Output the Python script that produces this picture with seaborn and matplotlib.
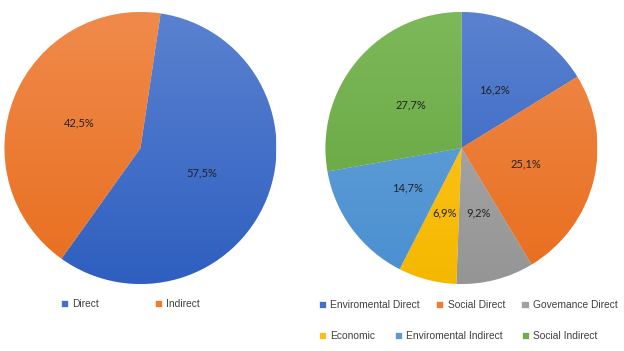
import numpy as np
import seaborn as sns
import matplotlib.pyplot as plt
from matplotlib.colors import LinearSegmentedColormap

# data
left_labels = ['Direct', 'Indirect']
left_values = [57.5, 42.5]

right_labels = ['Enviromental Direct', 'Social Direct', 'Govemance Direct',
                'Economic', 'Enviromental Indirect', 'Social Indirect']
right_values = [16.2, 25.1, 9.2, 6.9, 14.7, 27.7]

# Excel-like gradient colours (top / bottom of each slice)
left_top = ['#5b82d0', '#f08a4b']
left_bottom = ['#2e5fc0', '#e86e1e']
right_top = ['#5b82d0', '#f08a4b', '#b0b0b0', '#ffc82a', '#6aa6dc', '#7db85a']
right_bottom = ['#2e5fc0', '#e86e1e', '#959595', '#f5b800', '#4a8fd0', '#62a33a']

sns.set_theme(style='white')
plt.rcParams['font.family'] = ['Liberation Sans', 'DejaVu Sans']


def pct_text(v):
    return f'{v:.1f}%'.replace('.', ',')


def gradient_pie(ax, values, tops, bottoms, startangle):
    mids = [sns.blend_palette([t, b], 3)[1] for t, b in zip(tops, bottoms)]
    wedges, texts = ax.pie(values, labels=[pct_text(v) for v in values],
                           colors=mids, startangle=startangle, counterclock=False,
                           labeldistance=0.49,
                           wedgeprops=dict(edgecolor='white', linewidth=0.5),
                           textprops=dict(fontsize=8, color='#222222', family=['Lato', 'DejaVu Sans']))
    grad = np.linspace(0, 1, 256).reshape(-1, 1)
    for w, t, b in zip(wedges, tops, bottoms):
        cmap = LinearSegmentedColormap.from_list('g', [b, t])
        im = ax.imshow(grad, extent=[-1, 1, -1, 1], origin='lower', cmap=cmap,
                       aspect='auto', zorder=w.get_zorder() + 0.1)
        im.set_clip_path(w)
    for t in texts:
        t.set_ha('center')
        t.set_va('center')
        t.set_zorder(5)
    ax.set_xlim(-1, 1)
    ax.set_ylim(-1, 1)
    ax.set_aspect('equal')
    ax.axis('off')
    return wedges


fig = plt.figure(figsize=(6.24, 3.51), dpi=100)
ax1 = fig.add_axes([0.0072, 0.1909, 0.4359, 0.7749])
ax2 = fig.add_axes([0.5216, 0.1909, 0.4359, 0.7749])

w1 = gradient_pie(ax1, left_values, left_top, left_bottom, 81.5)
w2 = gradient_pie(ax2, right_values, right_top, right_bottom, 90)

leg_kw = dict(frameon=False, fontsize=7.4, labelcolor='#404040', borderpad=0,
              borderaxespad=0, handlelength=0.7, handleheight=0.7,
              handletextpad=0.4, loc='center left')

fig.legend(w1, left_labels, ncol=2, columnspacing=5.4,
           bbox_to_anchor=(0.0978, 0.134), **leg_kw)
fig.legend(w2[:3], right_labels[:3], ncol=3, columnspacing=1.6,
           bbox_to_anchor=(0.511, 0.131), **leg_kw)
fig.legend(w2[3:], right_labels[3:], ncol=3, columnspacing=1.9,
           bbox_to_anchor=(0.511, 0.0427), **leg_kw)

fig.savefig('out.png', dpi=100)
